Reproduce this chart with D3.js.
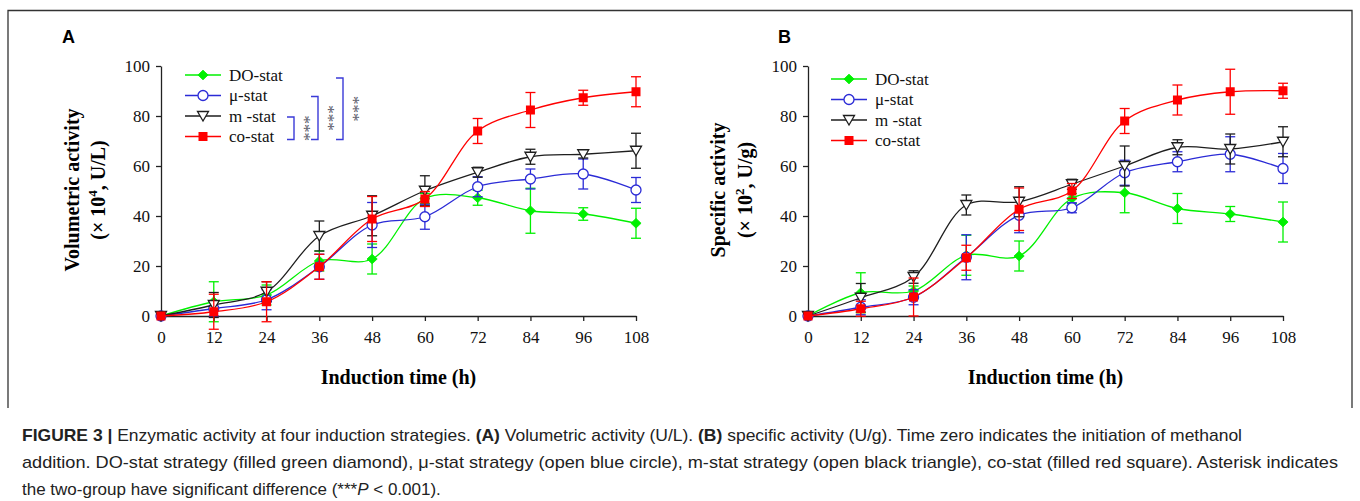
<!DOCTYPE html>
<html><head><meta charset="utf-8">
<script src="https://cdn.jsdelivr.net/npm/d3@7"></script>
<style>body{margin:0;background:#fff}</style>
</head><body><svg id="c" width="1360" height="501"></svg>
<script>
// ---------- DATA ----------
const hours = [0, 12, 24, 36, 48, 60, 72, 84, 96, 108];
const yTicks = [0, 20, 40, 60, 80, 100];
const seriesNames = ["DO-stat", "μ-stat", "m -stat", "co-stat"];

// Panel A: Volumetric activity (x10^4 U/L)
const volDO    = [0, 5.7, 8.4, 22.0, 22.8, 47.0, 47.3, 42.1, 40.8, 37.1];
const volDOErr = [0, 8, 4, 4, 6, 2, 3, 9, 2.5, 6];
const volMu    = [0, 3.0, 6.5, 19.7, 36.4, 39.7, 51.7, 54.8, 56.8, 50.4];
const volMuErr = [0, 3, 4, 5, 9, 5, 4, 4, 6, 5];
const volM     = [0, 4.4, 9.7, 32.0, 40.1, 50.1, 57.5, 63.7, 64.7, 66.1];
const volMErr  = [0, 5, 4, 6, 8, 6, 2, 3, 1.5, 7];
const volCo    = [0, 1.7, 5.7, 19.7, 38.8, 46.8, 74.0, 82.4, 87.3, 89.7];
const volCoErr = [0, 7, 8, 5, 9, 3, 5, 7, 3, 6];

// Panel B: Specific activity (x10^2 U/g)
const speDO    = [0, 9.3, 10.0, 24.3, 24.0, 47.0, 49.3, 43.0, 40.8, 37.6];
const speDOErr = [0, 8, 2, 8, 6, 2, 8, 6, 3, 8];
const speMu    = [0, 3.5, 7.5, 23.5, 40.3, 43.3, 57.3, 61.7, 64.7, 59.0];
const speMuErr = [0, 3, 3, 9, 7, 2, 5, 4, 7, 6];
const speM     = [0, 7.3, 15.6, 44.4, 45.7, 52.7, 60.0, 67.5, 66.8, 69.7];
const speMErr  = [0, 5.7, 2.5, 4, 6, 2, 8, 3, 6, 6];
const speCo    = [0, 2.9, 7.6, 23.3, 42.7, 50.0, 78.0, 86.4, 89.7, 90.1];
const speCoErr = [0, 3, 7.6, 5, 8.5, 3, 5, 6, 9, 3];

// ---------- STYLE ----------
const colors = ["#00f000", "#2b2bd6", "#1e1e1e", "#ff0000"];
const shapes = ["diamond", "circle", "triangle", "square"];
const serif = "'Liberation Serif','Times New Roman',serif";
const sans = "'Liberation Sans',Arial,sans-serif";

const svg = d3.select("#c");
svg.append("rect").attr("width", 1360).attr("height", 501).attr("fill", "#fff");
// frame
svg.append("path").attr("d", "M8,408 V10.5 H1352 V408").attr("fill", "none").attr("stroke", "#333").attr("stroke-width", 1.3);

const panels = [
  {label: "A", lx: 62, x0: 161, x1: 636, title1: "Volumetric activity", sup: "4", unit: ", U/L)", tx1: 79, tx2: 105,
   data: [[volDO, volDOErr], [volMu, volMuErr], [volM, volMErr], [volCo, volCoErr]], legX: 185, legY: 75, brackets: true},
  {label: "B", lx: 778, x0: 808, x1: 1283, title1: "Specific activity", sup: "2", unit: ", U/g)", tx1: 725, tx2: 752,
   data: [[speDO, speDOErr], [speMu, speMuErr], [speM, speMErr], [speCo, speCoErr]], legX: 831, legY: 79, brackets: false}
];

function marker(g, shape, color, x, y) {
  if (shape === "diamond") {
    g.append("path").attr("d", d3.symbol(d3.symbolDiamond2, 60)()).attr("transform", `translate(${x},${y}) scale(1.05,1)`)
      .attr("fill", color).attr("stroke", color).attr("stroke-width", 0.8);
  } else if (shape === "circle") {
    g.append("circle").attr("cx", x).attr("cy", y).attr("r", 5).attr("fill", "#fff").attr("stroke", color).attr("stroke-width", 1.3);
  } else if (shape === "triangle") {
    g.append("path").attr("d", `M${x - 5.5},${y - 4.5} L${x + 5.5},${y - 4.5} L${x},${y + 5} Z`)
      .attr("fill", "#fff").attr("stroke", color).attr("stroke-width", 1.3);
  } else {
    g.append("rect").attr("x", x - 4.5).attr("y", y - 4.5).attr("width", 9).attr("height", 9).attr("fill", color);
  }
}

panels.forEach(p => {
  const g = svg.append("g");
  const x = d3.scaleLinear().domain([0, 108]).range([p.x0, p.x1]);
  const y = d3.scaleLinear().domain([0, 100]).range([316, 66]);

  g.append("text").attr("x", p.lx).attr("y", 43).text(p.label)
    .attr("font-family", sans).attr("font-weight", "bold").attr("font-size", 18);

  const xa = g.append("g").attr("transform", "translate(0,316)")
    .call(d3.axisBottom(x).tickValues(hours).tickSize(5).tickSizeOuter(0).tickPadding(6));
  const ya = g.append("g").attr("transform", `translate(${p.x0},0)`)
    .call(d3.axisLeft(y).tickValues(yTicks).tickSize(5).tickSizeOuter(0).tickPadding(6));
  [xa, ya].forEach(a => {
    a.select(".domain").attr("stroke", "#222").attr("stroke-width", 1.3);
    a.selectAll(".tick line").attr("stroke", "#222").attr("stroke-width", 1.3);
    a.selectAll("text").attr("font-family", serif).attr("font-size", 17).attr("fill", "#111");
  });
  xa.selectAll("text").attr("dy", "0.95em");

  g.append("text").attr("x", (p.x0 + p.x1) / 2).attr("y", 384).attr("text-anchor", "middle")
    .attr("font-family", serif).attr("font-weight", "bold").attr("font-size", 20).text("Induction time (h)");
  const cy = 190;
  g.append("text").attr("transform", `translate(${p.tx1},${cy}) rotate(-90)`).attr("text-anchor", "middle")
    .attr("font-family", serif).attr("font-weight", "bold").attr("font-size", 20).text(p.title1);
  const t2 = g.append("text").attr("transform", `translate(${p.tx2},${cy}) rotate(-90)`).attr("text-anchor", "middle")
    .attr("font-family", serif).attr("font-weight", "bold").attr("font-size", 20);
  t2.append("tspan").text("(× 10");
  t2.append("tspan").attr("font-size", 13).attr("dy", -8).text(p.sup);
  t2.append("tspan").attr("dy", 8).text(p.unit);

  const line = d3.line().x((d, i) => x(hours[i])).y(d => y(d)).curve(d3.curveCatmullRom.alpha(0.5));
  p.data.forEach(([vals, errs], si) => {
    const c = colors[si];
    const sg = g.append("g");
    sg.append("path").attr("d", line(vals)).attr("fill", "none").attr("stroke", c).attr("stroke-width", 1.3);
    vals.forEach((v, i) => {
      if (errs[i] <= 0) return;
      const xx = x(hours[i]), yt = y(v + errs[i]), yb = y(v - errs[i]);
      sg.append("line").attr("x1", xx).attr("x2", xx).attr("y1", yt).attr("y2", yb).attr("stroke", c).attr("stroke-width", 1.3);
      [yt, yb].forEach(yy => sg.append("line").attr("x1", xx - 5).attr("x2", xx + 5).attr("y1", yy).attr("y2", yy)
        .attr("stroke", c).attr("stroke-width", 1.3));
    });
    vals.forEach((v, i) => marker(sg, shapes[si], c, x(hours[i]), y(v)));
  });

  const rowH = 20.5;
  seriesNames.forEach((n, i) => {
    const ly = p.legY + i * rowH;
    g.append("line").attr("x1", p.legX).attr("x2", p.legX + 36).attr("y1", ly).attr("y2", ly)
      .attr("stroke", colors[i]).attr("stroke-width", 1.3);
    marker(g, shapes[i], colors[i], p.legX + 18, ly);
    g.append("text").attr("x", p.legX + 44).attr("y", ly + 5.5).text(n)
      .attr("font-family", serif).attr("font-size", 17).attr("fill", "#111");
  });

  if (p.brackets) {
    const bottom = p.legY + 3 * rowH + 3;
    const bs = [{x: 287, top: p.legY + 2 * rowH + 1}, {x: 311, top: p.legY + rowH + 1}, {x: 336, top: p.legY + 3}];
    bs.forEach(b => {
      g.append("path").attr("d", `M${b.x},${b.top} H${b.x + 7} V${bottom} H${b.x}`)
        .attr("fill", "none").attr("stroke", "#3a3ad8").attr("stroke-width", 1.4);
      g.append("text").attr("transform", `translate(${b.x + 12},${(b.top + bottom) / 2}) rotate(90)`)
        .attr("text-anchor", "middle").attr("font-family", serif).attr("font-size", 17).attr("fill", "#5a5a6a").text("***");
    });
  }
});

// caption
const cap = svg.append("g").attr("font-family", sans).attr("font-size", 17).attr("fill", "#222");
const l1 = cap.append("text").attr("x", 22).attr("y", 441).attr("textLength", 1220).attr("lengthAdjust", "spacingAndGlyphs");
l1.append("tspan").attr("font-weight", "bold").text("FIGURE 3 | ");
l1.append("tspan").text("Enzymatic activity at four induction strategies. ");
l1.append("tspan").attr("font-weight", "bold").text("(A)");
l1.append("tspan").text(" Volumetric activity (U/L). ");
l1.append("tspan").attr("font-weight", "bold").text("(B)");
l1.append("tspan").text(" specific activity (U/g). Time zero indicates the initiation of methanol");
cap.append("text").attr("x", 22).attr("y", 468).attr("textLength", 1316).attr("lengthAdjust", "spacingAndGlyphs")
  .text("addition. DO-stat strategy (filled green diamond), μ-stat strategy (open blue circle), m-stat strategy (open black triangle), co-stat (filled red square). Asterisk indicates");
const l3 = cap.append("text").attr("x", 22).attr("y", 495);
l3.append("tspan").text("the two-group have significant difference (***");
l3.append("tspan").attr("font-style", "italic").text("P");
l3.append("tspan").text(" < 0.001).");
</script></body></html>
